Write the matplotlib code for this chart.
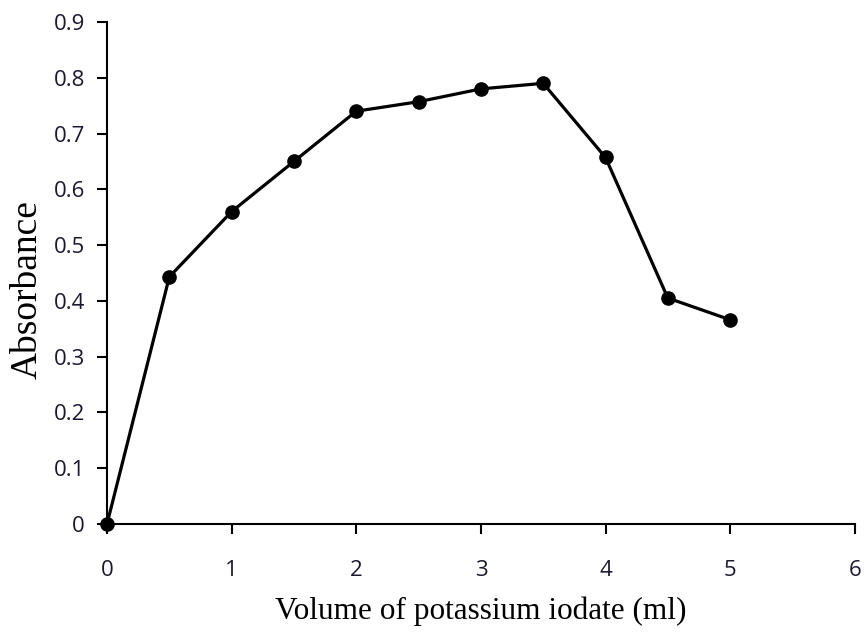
import matplotlib
matplotlib.use('Agg')
import matplotlib.pyplot as plt

# volume of potassium iodate (ml) vs absorbance
volume = [0, 0.5, 1, 1.5, 2, 2.5, 3, 3.5, 4, 4.5, 5]
absorbance = [0, 0.443, 0.56, 0.65, 0.74, 0.757, 0.78, 0.79, 0.657, 0.405, 0.366]

xticks = [0, 1, 2, 3, 4, 5, 6]
yticks = [0, 0.1, 0.2, 0.3, 0.4, 0.5, 0.6, 0.7, 0.8, 0.9]
yticklabels = ['0', '0.1', '0.2', '0.3', '0.4', '0.5', '0.6', '0.7', '0.8', '0.9']

fig = plt.figure(figsize=(8.66, 6.35), dpi=100)
ax = fig.add_axes([0.1236, 0.175, 0.8634, 0.7904])

ax.plot(volume, absorbance, color='black', lw=2.3, marker='o', ms=9.5, clip_on=False)

ax.set_xlim(0, 6)
ax.set_ylim(0, 0.9)
ax.set_xticks(xticks)
ax.set_yticks(yticks)
ax.set_yticklabels(yticklabels)
ax.spines['top'].set_visible(False)
ax.spines['right'].set_visible(False)
for s in ['left', 'bottom']:
    ax.spines[s].set_linewidth(1.5)
ax.tick_params(direction='out', length=7, width=1.5, labelsize=16)
ax.tick_params(axis='y', pad=9)
ax.tick_params(axis='x', pad=19)
for lab in ax.get_xticklabels() + ax.get_yticklabels():
    lab.set_family('Open Sans')
    lab.set_color('#1a1a2e')

ax.set_xlabel('Volume of potassium iodate (ml)', family='Liberation Serif', fontsize=22.5, labelpad=11)
ax.set_ylabel('Absorbance', family='Liberation Serif', fontsize=27)
ax.yaxis.set_label_coords(-0.083, 0.466)

fig.savefig('out.png', dpi=100)
